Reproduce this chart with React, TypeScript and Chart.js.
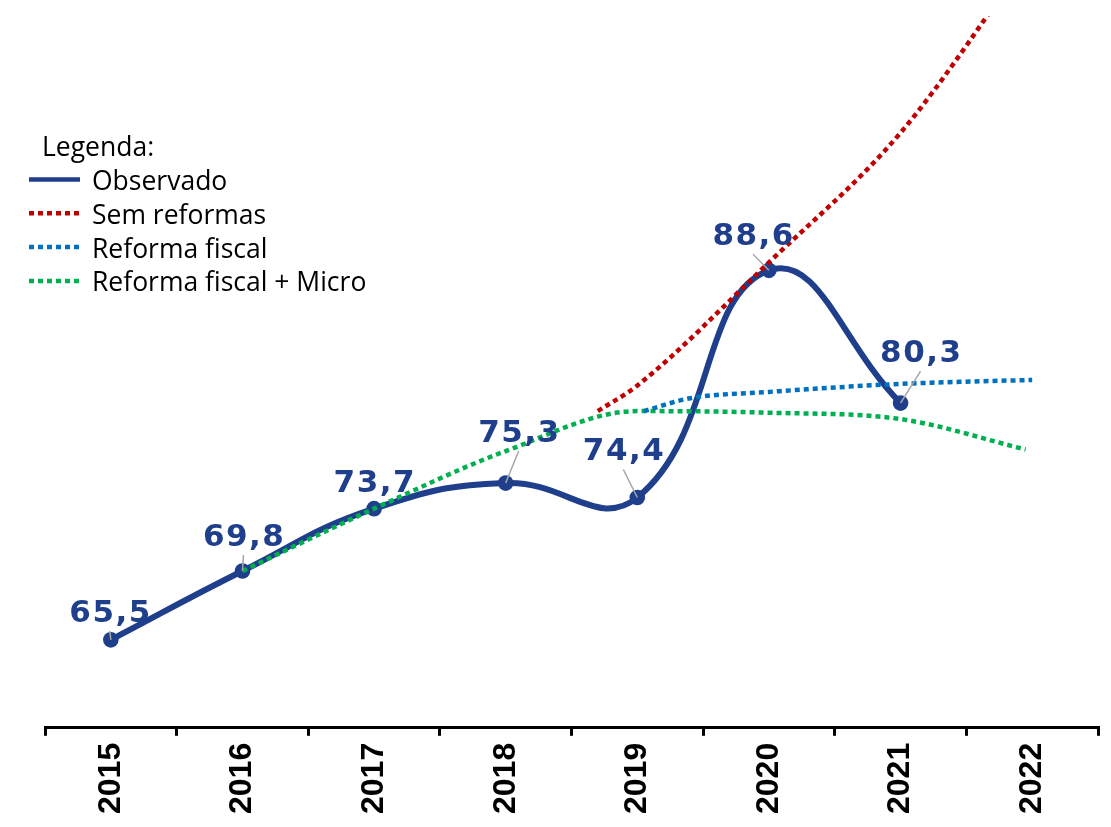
import React, { useEffect, useRef } from 'react';
import { Chart, registerables } from 'chart.js';

Chart.register(...registerables);

// ---- data ----
const YEAR_LABELS = ['2015', '2016', '2017', '2018', '2019', '2020', '2021', '2022'];

const OBS_YEARS = [2015, 2016, 2017, 2018, 2019, 2020, 2021];
const OBS_VALUES = [65.5, 69.8, 73.7, 75.3, 74.4, 88.6, 80.3];

const SEM_YEARS = [2018.7, 2019, 2020, 2021, 2022];
const SEM_VALUES = [79.8, 81.4, 89.1, 97.2, 108.5];

const FISCAL_YEARS = [2019.05, 2019.4, 2020, 2021, 2022];
const FISCAL_VALUES = [79.8, 80.6, 81.0, 81.5, 81.75];

const MICRO_YEARS = [2016, 2017, 2018, 2019, 2020, 2021, 2021.95];
const MICRO_VALUES = [69.8, 73.7, 77.3, 79.8, 79.7, 79.3, 77.4];

const SERIES_NAMES = ['Observado', 'Sem reformas', 'Reforma fiscal', 'Reforma fiscal + Micro'];
const LEGEND_TITLE = 'Legenda:';

// ---- styles ----
const C_OBS = '#1F3F8C';
const C_SEM = '#C00000';
const C_FISCAL = '#0070C0';
const C_MICRO = '#00B050';

// label placement relative to each observed point: [dx, dy of baseline]
const LABEL_OFFSETS: [number, number][] = [
  [-1, -18], [1, -25], [0, -17], [13, -41], [-14, -37], [-16, -25], [20, -41],
];

const toPts = (xs: number[], ys: number[]) => xs.map((x, i) => ({ x, y: ys[i] }));

const fmt = (v: number) => v.toFixed(1).replace('.', ',');

const dataLabelPlugin = {
  id: 'obsLabels',
  afterDatasetsDraw(chart: any) {
    const meta = chart.getDatasetMeta(0);
    const ctx = chart.ctx;
    ctx.save();
    ctx.font = 'bold 31px "DejaVu Sans", Verdana, sans-serif';
    ctx.textAlign = 'center';
    ctx.textBaseline = 'alphabetic';
    try { (ctx as any).letterSpacing = '1.5px'; } catch (e) { /* ignore */ }
    meta.data.forEach((el: any, i: number) => {
      const [dx, dy] = LABEL_OFFSETS[i];
      const cx = el.x + dx;
      const by = el.y + dy;
      const ex = cx;
      const ey = by + 9;
      const dist = Math.hypot(ex - el.x, ey - el.y);
      if (dist > 8) {
        ctx.strokeStyle = '#A6A6A6';
        ctx.lineWidth = 1.5;
        ctx.beginPath();
        ctx.moveTo(el.x, el.y);
        ctx.lineTo(ex, ey);
        ctx.stroke();
      }
      ctx.fillStyle = C_OBS;
      ctx.fillText(fmt(OBS_VALUES[i]), cx + 0.75, by);
    });
    ctx.restore();
  },
};

const legendPlugin = {
  id: 'customLegend',
  afterDraw(chart: any) {
    const ctx = chart.ctx;
    ctx.save();
    ctx.font = '26.5px "Open Sans", "Liberation Sans", sans-serif';
    ctx.fillStyle = '#000';
    ctx.textAlign = 'left';
    ctx.textBaseline = 'alphabetic';
    ctx.fillText(LEGEND_TITLE, 42, 156);
    const colors = [C_OBS, C_SEM, C_FISCAL, C_MICRO];
    SERIES_NAMES.forEach((name, i) => {
      const base = 190 + i * 33.8;
      const ly = base - 10.5;
      ctx.strokeStyle = colors[i];
      ctx.lineCap = 'butt';
      ctx.lineWidth = 4.5;
      ctx.setLineDash(i === 0 ? [] : [5, 4]);
      ctx.beginPath();
      ctx.moveTo(29, ly);
      ctx.lineTo(80, ly);
      ctx.stroke();
      ctx.setLineDash([]);
      ctx.fillText(name, 92, base);
    });
    ctx.restore();
  },
};

export default function App() {
  const ref = useRef<HTMLCanvasElement>(null);

  useEffect(() => {
    const canvas = ref.current;
    if (!canvas) return;
    const dotted = (color: string) => ({
      borderColor: color,
      backgroundColor: color,
      borderWidth: 4.5,
      borderDash: [5, 4],
      borderCapStyle: 'butt' as const,
      pointRadius: 0,
      pointHoverRadius: 0,
      cubicInterpolationMode: 'monotone' as const,
      fill: false,
      order: 0,
    });
    const chart = new Chart(canvas, {
      type: 'line',
      data: {
        datasets: [
          {
            label: SERIES_NAMES[0],
            data: toPts(OBS_YEARS, OBS_VALUES),
            borderColor: C_OBS,
            backgroundColor: C_OBS,
            borderWidth: 6,
            tension: 0.45,
            pointRadius: 7.8,
            pointBackgroundColor: C_OBS,
            pointBorderWidth: 0,
            fill: false,
            order: 10,
          },
          { label: SERIES_NAMES[1], data: toPts(SEM_YEARS, SEM_VALUES), ...dotted(C_SEM) },
          { label: SERIES_NAMES[2], data: toPts(FISCAL_YEARS, FISCAL_VALUES), ...dotted(C_FISCAL) },
          { label: SERIES_NAMES[3], data: toPts(MICRO_YEARS, MICRO_VALUES), ...dotted(C_MICRO) },
        ],
      },
      options: {
        responsive: false,
        animation: false,
        devicePixelRatio: 1,
        layout: { padding: { left: 45, right: 13, top: 16, bottom: 6 } },
        plugins: {
          legend: { display: false },
          tooltip: { enabled: false },
        },
        scales: {
          x: {
            type: 'linear',
            min: 2014.5,
            max: 2022.5,
            afterFit: (scale: any) => {
              scale.paddingLeft = 0;
              scale.paddingRight = 0;
            },
            border: { display: true, color: '#000', width: 3 },
            grid: {
              drawOnChartArea: false,
              drawTicks: true,
              tickLength: 8,
              lineWidth: 3,
              color: (c: any) =>
                c.tick && Number.isInteger(c.tick.value) ? 'rgba(0,0,0,0)' : '#000',
            },
            ticks: {
              stepSize: 0.5,
              autoSkip: false,
              minRotation: 90,
              maxRotation: 90,
              padding: 7,
              color: '#000',
              font: { family: '"Liberation Sans", Arial, sans-serif', size: 32, weight: 'bold' },
              callback: (v: any) => {
                const n = Number(v);
                if (!Number.isInteger(n)) return '';
                const s = String(n);
                return YEAR_LABELS.includes(s) ? s : '';
              },
            },
          },
          y: {
            display: false,
            min: 60,
            max: 104.5,
          },
        },
      },
      plugins: [dataLabelPlugin, legendPlugin],
    });
    return () => chart.destroy();
  }, []);

  return (
    <div style={{ position: 'fixed', left: 0, top: 0, width: 1111, height: 827, background: '#fff' }}>
      <canvas ref={ref} width={1111} height={827} style={{ width: 1111, height: 827, display: 'block' }} />
    </div>
  );
}
